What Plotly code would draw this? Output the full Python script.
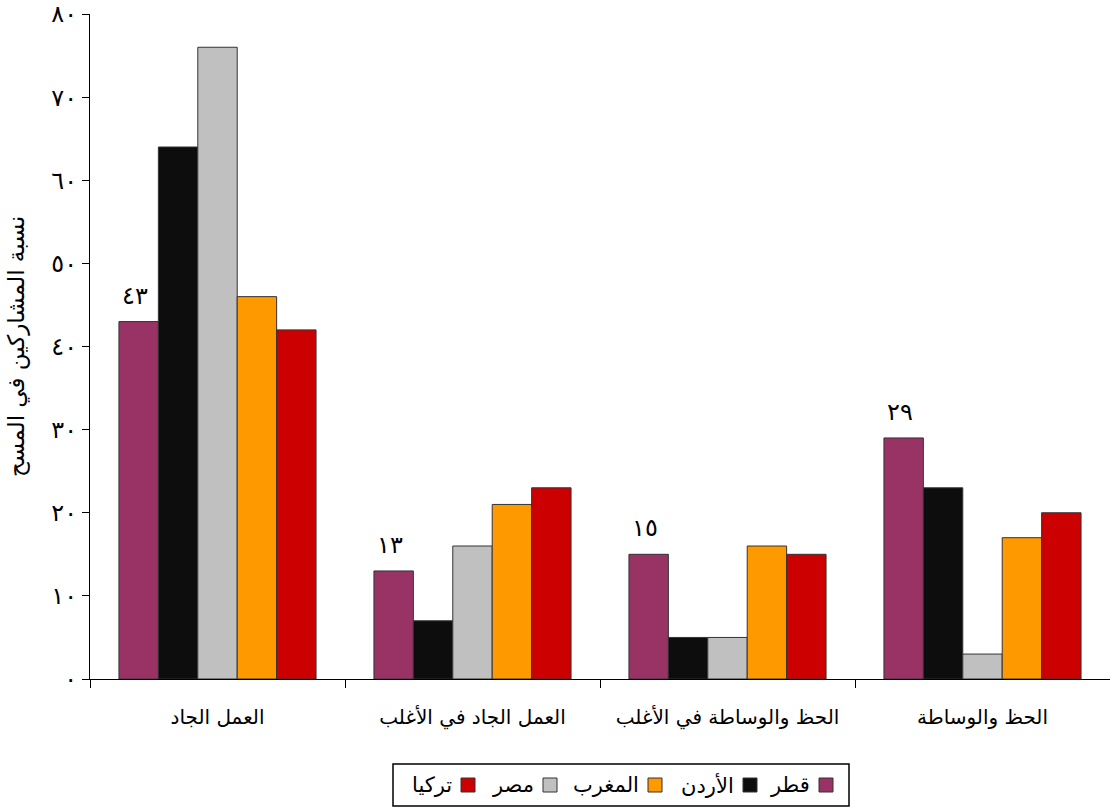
import plotly.graph_objects as go

categories = ["العمل الجاد", "العمل الجاد في الأغلب", "الحظ والوساطة في الأغلب", "الحظ والوساطة"]
series_names = ["قطر", "الأردن", "مصر", "المغرب", "تركيا"]
qatar = [43, 13, 15, 29]
jordan = [64, 7, 5, 23]
egypt = [76, 16, 5, 3]
morocco = [46, 21, 16, 17]
turkey = [42, 23, 15, 20]
series_values = [qatar, jordan, egypt, morocco, turkey]
colors = ["#993366", "#0d0d0d", "#c0c0c0", "#ff9900", "#cc0000"]
y_ticks = [0, 10, 20, 30, 40, 50, 60, 70, 80]
legend_order = ["قطر", "الأردن", "المغرب", "مصر", "تركيا"]  # right to left as shown

AR = str.maketrans("0123456789", "٠١٢٣٤٥٦٧٨٩")


def ar(n):
    return str(n).translate(AR)


FONT = "DejaVu Sans"
# plot area in screen pixels (body margin removed via post_script)
PX0, PX1, PY0, PY1 = 90, 1110, 14, 679
PW, PH = PX1 - PX0, PY1 - PY0


def px(x):
    return (x - PX0) / PW


def py(y):
    return (PY1 - y) / PH


fig = go.Figure()
for name, vals, col in zip(series_names, series_values, colors):
    fig.add_trace(go.Bar(x=categories, y=vals, name=name, marker_color=col,
                         marker_line=dict(color="#333333", width=1), showlegend=False))

# data labels for the first series
bar_px = PW / 4 * (1 - 0.227) / 5
for c, v in zip(categories, qatar):
    fig.add_annotation(x=c, y=v, xref="x", yref="y", text=ar(v), showarrow=False,
                       xshift=-2 * bar_px - 4, yshift=26,
                       font=dict(family=FONT, size=24, color="black"))

# custom RTL legend
fig.add_shape(type="rect", xref="paper", yref="paper",
              x0=px(393), x1=px(849), y0=py(806), y1=py(764),
              line=dict(color="black", width=1.5), fillcolor="white")
color_of = dict(zip(series_names, colors))
box_px = [826, 750, 655, 550, 468]
for nm, bx in zip(legend_order, box_px):
    yc = py(785)
    fig.add_shape(type="rect", xref="paper", yref="paper",
                  x0=px(bx - 7), x1=px(bx + 7), y0=yc - 7 / PH, y1=yc + 7 / PH,
                  line=dict(color="#333333", width=1), fillcolor=color_of[nm])
    fig.add_annotation(xref="paper", yref="paper", x=px(bx - 14), y=yc,
                       xanchor="right", yanchor="middle", text=nm, showarrow=False,
                       font=dict(family=FONT, size=21, color="black"))

fig.update_layout(
    width=1110, height=808,
    margin=dict(l=PX0, r=1110 - PX1, t=PY0, b=808 - PY1),
    paper_bgcolor="white", plot_bgcolor="white",
    barmode="group", bargap=0.227, bargroupgap=0,
    font=dict(family=FONT, size=20, color="black"),
    xaxis=dict(showline=True, linecolor="black", linewidth=1.2, automargin=False,
               ticks="outside", tickson="boundaries", ticklen=8, tickcolor="black",
               ticklabelstandoff=20, tickfont=dict(size=20)),
    yaxis=dict(range=[0, 80], tickvals=y_ticks, ticktext=[ar(t) for t in y_ticks],
               showline=True, linecolor="black", linewidth=1.2, showgrid=False,
               automargin=False, ticklabeloverflow="allow",
               ticks="outside", ticklen=7, tickcolor="black", ticklabelstandoff=0,
               zeroline=False, tickfont=dict(size=24),
               title=dict(text="نسبة المشاركين في المسح", font=dict(size=23), standoff=20)),
)
fig.write_html("out.html", config={"displayModeBar": False},
               post_script="document.body.style.margin='0';")
